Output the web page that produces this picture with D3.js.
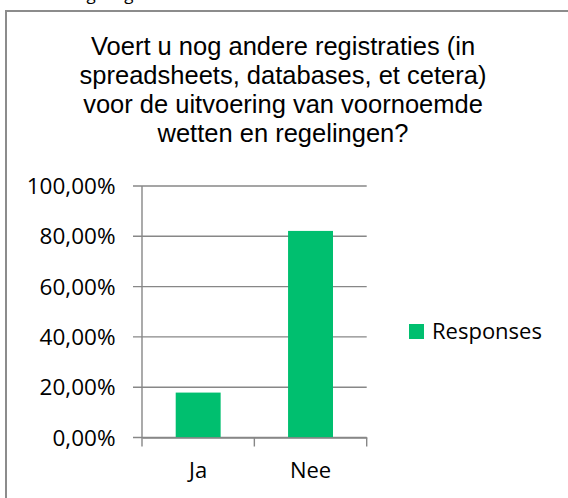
<!DOCTYPE html>
<html>
<head>
<meta charset="utf-8">
<script src="https://cdn.jsdelivr.net/npm/d3@7"></script>
<style>
  html, body { margin: 0; padding: 0; background: #fff; overflow: hidden; }
  svg { display: block; }
</style>
</head>
<body>
<div id="chart"></div>
<script>
// Chart data
const categories = ["Ja", "Nee"];
const responses = [0.1786, 0.8214];
const yTicks = [0, 0.2, 0.4, 0.6, 0.8, 1.0];
const titleLines = [
    "Voert u nog andere registraties (in",
    "spreadsheets, databases, et cetera)",
    "voor de uitvoering van voornoemde",
    "wetten en regelingen?"
];
const seriesName = "Responses";

const W = 568, H = 498;
const plot = {left: 142, right: 366.7, top: 186, bottom: 437.5};
const green = "#00bf6f";
const gridColor = "#878787";
const labelFont = "'Open Sans', 'Noto Sans', sans-serif";

const svg = d3.select("#chart")
    .append("svg")
    .attr("width", W)
    .attr("height", H);

// cut-off text from above the chart frame (only descenders show)
svg.append("text")
    .attr("x", 70)
    .attr("y", -0.5)
    .attr("font-family", labelFont)
    .attr("font-size", 17)
    .text("regelingen");

// outer frame (runs past the right and bottom edge)
svg.append("rect")
    .attr("x", 6)
    .attr("y", 11)
    .attr("width", 700)
    .attr("height", 700)
    .attr("fill", "#fff")
    .attr("stroke", "#8c8c8c")
    .attr("stroke-width", 2);

// Title
svg.append("g")
    .selectAll("text")
    .data(titleLines)
    .enter()
    .append("text")
    .attr("x", 283)
    .attr("y", (d, i) => 55 + i * 29)
    .attr("text-anchor", "middle")
    .attr("font-family", "'Liberation Sans', Arial, sans-serif")
    .attr("font-size", 25.5)
    .attr("fill", "#000")
    .text(d => d);

// Scales
const xAxisScale = d3.scaleBand()
    .domain(categories)
    .range([plot.left, plot.right]);

const xBarScale = d3.scaleBand()
    .domain(categories)
    .range([plot.left, plot.right])
    .paddingInner(0.6)
    .paddingOuter(0.3);

const yScale = d3.scaleLinear()
    .domain([0, 1])
    .range([plot.bottom, plot.top]);

// Gridlines + y tick marks
svg.append("g")
    .selectAll("line")
    .data(yTicks)
    .enter()
    .append("line")
    .attr("x1", plot.left - 9)
    .attr("x2", plot.right)
    .attr("y1", d => yScale(d))
    .attr("y2", d => yScale(d))
    .attr("stroke", gridColor)
    .attr("stroke-width", 1.4);

// Y axis labels
const fmt = d => d3.format(".2f")(d * 100).replace(".", ",") + "%";
svg.append("g")
    .selectAll("text")
    .data(yTicks)
    .enter()
    .append("text")
    .attr("x", 115.5)
    .attr("y", d => yScale(d))
    .attr("dy", "0.36em")
    .attr("text-anchor", "end")
    .attr("font-family", labelFont)
    .attr("font-size", 22.5)
    .attr("fill", "#000")
    .text(fmt);

// Bars
svg.append("g")
    .selectAll("rect")
    .data(categories)
    .enter()
    .append("rect")
    .attr("x", d => xBarScale(d))
    .attr("y", (d, i) => yScale(responses[i]))
    .attr("width", xBarScale.bandwidth())
    .attr("height", (d, i) => plot.bottom - yScale(responses[i]))
    .attr("fill", green);

// Y axis line
svg.append("line")
    .attr("x1", plot.left)
    .attr("x2", plot.left)
    .attr("y1", plot.top)
    .attr("y2", plot.bottom + 9)
    .attr("stroke", gridColor)
    .attr("stroke-width", 1.4);

// X axis
const xAxis = d3.axisBottom(xAxisScale)
    .tickSize(0)
    .tickPadding(25);

const gx = svg.append("g")
    .attr("transform", `translate(0,${plot.bottom})`)
    .call(xAxis);
gx.select(".domain").attr("stroke", gridColor).attr("stroke-width", 1.4);
gx.selectAll("text")
    .attr("font-family", labelFont)
    .attr("font-size", 22)
    .attr("fill", "#000");

// category boundary tick marks
svg.append("g")
    .selectAll("line")
    .data(categories)
    .enter()
    .append("line")
    .attr("x1", d => xAxisScale(d) + xAxisScale.bandwidth())
    .attr("x2", d => xAxisScale(d) + xAxisScale.bandwidth())
    .attr("y1", plot.bottom)
    .attr("y2", plot.bottom + 9)
    .attr("stroke", gridColor)
    .attr("stroke-width", 1.4);

// Legend
const legend = svg.append("g")
    .attr("transform", "translate(409,324)");
legend.append("rect")
    .attr("width", 15)
    .attr("height", 15)
    .attr("fill", green);
legend.append("text")
    .attr("x", 23)
    .attr("y", 15)
    .attr("font-family", labelFont)
    .attr("font-size", 22)
    .attr("fill", "#000")
    .text(seriesName);
</script>
</body>
</html>
